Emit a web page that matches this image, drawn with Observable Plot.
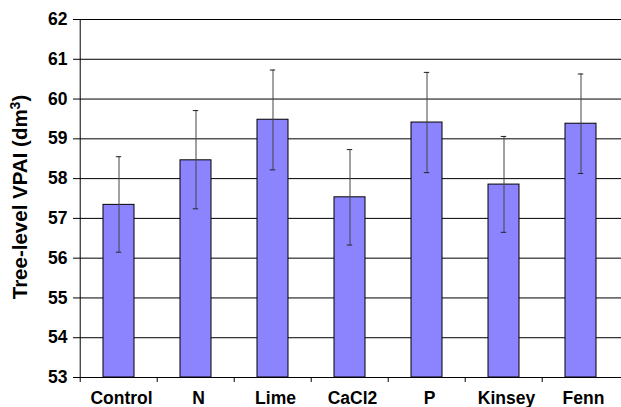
<!DOCTYPE html>
<html>
<head>
<meta charset="utf-8">
<script src="https://cdn.jsdelivr.net/npm/d3@7"></script>
<script src="https://cdn.jsdelivr.net/npm/@observablehq/plot@0.6"></script>
<style>
  html, body { margin: 0; padding: 0; background: #fff; }
  #chart { width: 621px; height: 407px; }
</style>
</head>
<body>
<div id="chart"></div>
<script>
const categories = ["Control", "N", "Lime", "CaCl2", "P", "Kinsey", "Fenn"];
const means      = [57.34, 58.46, 59.48, 57.53, 59.41, 57.85, 59.38];
const errUpper   = [58.55, 59.71, 60.73, 58.73, 60.67, 59.06, 60.63];
const errLower   = [56.15, 57.24, 58.22, 56.33, 58.15, 56.65, 58.13];
const yTicks     = [53, 54, 55, 56, 57, 58, 59, 60, 61, 62];

const data = categories.map((c, i) => ({cat: c, mean: means[i], hi: errUpper[i], lo: errLower[i]}));

const W = 621, H = 407, mL = 78, mR = 0, mT = 19, mB = 30;
const step = (W - mL - mR) / categories.length;
const yMin = yTicks[0], yMax = yTicks[yTicks.length - 1];
const unitsPerPx = (yMax - yMin) / (H - mT - mB);

const chart = Plot.plot({
  width: W, height: H,
  marginLeft: mL, marginRight: mR, marginTop: mT, marginBottom: mB,
  style: {fontFamily: "'Liberation Sans', Arial, sans-serif", fontWeight: "bold", fontSize: "17.5px", color: "#000", background: "#fff", overflow: "visible"},
  x: {domain: categories, padding: 0, label: null},
  y: {domain: [yMin, yMax], label: null},
  marks: [
    Plot.ruleY(yTicks, {stroke: "#000", strokeWidth: 1}),
    Plot.barY(data, {x: "cat", y1: yMin, y2: "mean", fill: "#8C84FF", stroke: "#000", strokeWidth: 1, insetLeft: 23, insetRight: 23}),
    Plot.ruleX(data, {x: "cat", y1: "lo", y2: "hi", stroke: "#444", strokeWidth: 1}),
    Plot.tickY(data, {x: "cat", y: "hi", stroke: "#222", strokeWidth: 1, insetLeft: step / 2 - 3, insetRight: step / 2 - 3}),
    Plot.tickY(data, {x: "cat", y: "lo", stroke: "#222", strokeWidth: 1, insetLeft: step / 2 - 3, insetRight: step / 2 - 3}),
    // left axis line
    Plot.ruleX([categories[0]], {x: d => d, y1: yMin, y2: yMax, dx: -step / 2, stroke: "#000"}),
    // category boundary ticks
    Plot.ruleX(categories, {x: d => d, y1: yMin, y2: yMin - 5 * unitsPerPx, dx: -step / 2, stroke: "#000", clip: false}),
    Plot.axisY({ticks: yTicks, tickSize: 5, tickPadding: 6, tickFormat: d => String(d), stroke: "#000"}),
    Plot.axisX({tickSize: 0, tickPadding: 14, dx: 2.5})
  ]
});

document.getElementById("chart").appendChild(chart);

const svg = d3.select(chart);
const t = svg.append("text")
  .attr("transform", "translate(27.3,197) rotate(-90)")
  .attr("text-anchor", "middle")
  .attr("font-family", "'Liberation Sans', Arial, sans-serif")
  .attr("font-weight", "bold")
  .attr("font-size", "20.5px")
  .attr("fill", "#000");
t.append("tspan").text("Tree-level VPAI (dm");
t.append("tspan").attr("font-size", "14px").attr("dy", "-0.55em").text("3");
t.append("tspan").attr("dy", "0.38em").text(")");
</script>
</body>
</html>
